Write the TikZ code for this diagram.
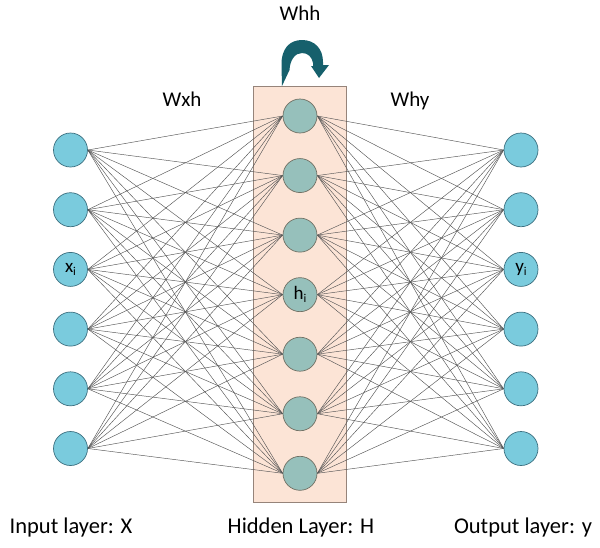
\documentclass[tikz,border=0pt]{standalone}
\usepackage{fontspec}
\setmainfont{Carlito}
\usetikzlibrary{arrows.meta}
\pgfdeclarelayer{bg}
\pgfsetlayers{bg,main}
\definecolor{inblue}{RGB}{122,203,221}
\definecolor{inedge}{RGB}{60,112,128}
\definecolor{hidfill}{RGB}{150,192,187}
\definecolor{hidedge}{RGB}{112,112,100}
\definecolor{peach}{RGB}{252,228,214}
\definecolor{peachedge}{RGB}{150,132,122}
\definecolor{arrowteal}{RGB}{22,96,108}
\definecolor{wire}{RGB}{85,85,85}
\tikzset{
  inode/.style={circle,draw=inedge,fill=inblue,line width=0.7pt,minimum size=34pt,inner sep=0pt,font=\fontsize{19}{19}\selectfont},
  hnode/.style={circle,draw=hidedge,fill=hidfill,line width=0.7pt,minimum size=34pt,inner sep=0pt,font=\fontsize{19}{19}\selectfont},
  wirestyle/.style={draw=wire,line width=0.45pt},
  wlabel/.style={font=\fontsize{21}{21}\selectfont,anchor=base},
  llabel/.style={font=\fontsize{22.5}{22.5}\selectfont,anchor=base},
  layerbox/.style={draw=peachedge,fill=peach,line width=0.7pt}
}
\newcommand{\subi}[1]{#1\raisebox{-0.35ex}{\fontsize{12}{12}\selectfont i}}
\begin{document}
\begin{tikzpicture}[x=1pt,y=-1pt]
\useasboundingbox (0,0) rectangle (600,547);
% nodes
\foreach \k in {1,...,6}{
  \pgfmathsetmacro{\yy}{150+59.7*(\k-1)}
  \path (70.5,\yy) node[inode] (i\k) {\ifnum\k=3 \subi{x}\fi};
  \path (521,\yy) node[inode] (o\k) {\ifnum\k=3 \subi{y}\fi};
}
\foreach \k in {1,...,7}{
  \pgfmathsetmacro{\yy}{116+59.55*(\k-1)}
  \path (300,\yy) node[hnode] (h\k) {\ifnum\k=4 \subi{h}\fi};
}
\begin{pgfonlayer}{bg}
\fill[white] (0,0) rectangle (600,547);
% hidden layer box
\draw[layerbox] (253.5,86) rectangle (346.5,502);
% connectors
\foreach \a in {1,...,6}{
  \foreach \b in {1,...,7}{
    \draw[wirestyle] (i\a.east) -- (h\b.west);
    \draw[wirestyle] (h\b.east) -- (o\a.west);
  }
}
\end{pgfonlayer}
% recurrent arrow
\fill[arrowteal] (282,86) -- (281.5,66) .. controls (281,48) and (290,40) .. (302,40)
  .. controls (315,40) and (323,49) .. (323,62) -- (323,65) -- (329,65) -- (319,78)
  -- (311,66) -- (313,66) -- (313,63) .. controls (312,57) and (308,53) .. (302,53)
  .. controls (295,53) and (290,60) .. (289.5,70) -- cycle;
% labels
\node[wlabel] (whh) at (300,20.5) {Whh};
\node[wlabel] (wxh) at (182,106) {Wxh};
\node[wlabel] (why) at (410,106) {Why};
\node[llabel] (lin) at (71,533) {Input layer: X};
\node[llabel] (lhid) at (301,533) {Hidden Layer: H};
\node[llabel] (lout) at (523,533) {Output layer: y};
\end{tikzpicture}
\end{document}
